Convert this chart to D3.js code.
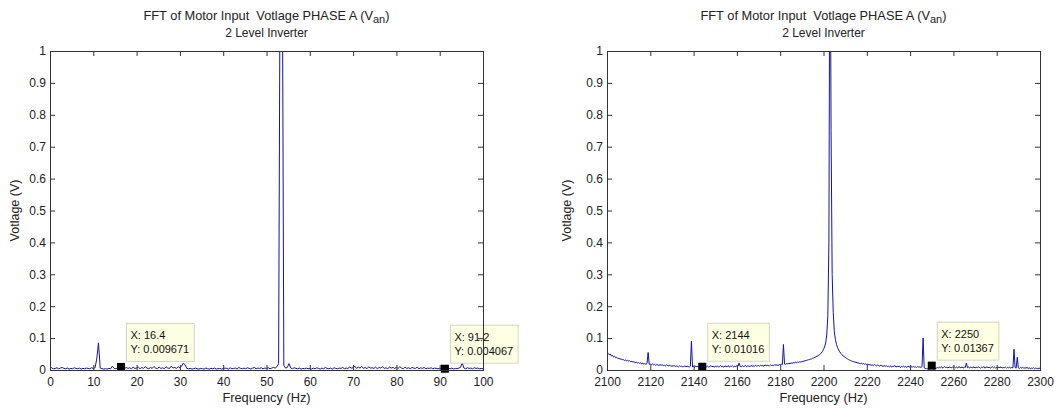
<!DOCTYPE html>
<html lang="en">
<head>
<meta charset="utf-8">
<title>FFT of Motor Input Votlage PHASE A</title>
<script src="https://cdn.jsdelivr.net/npm/d3@7"></script>
<style>
    body { margin: 0; background: #fff; }
    text { font-family: Arial, "Liberation Sans", sans-serif; fill: #222; }
</style>
</head>
<body>
<script>

// ---- data ----

// left panel: 0..100 Hz, 0.4 Hz bins
var stepA = 0.4;
var voltsA = [
    .012,.006,.004,.005,.007,.004,.006,.008,.005,.004,.006,.003,.005,.004,.007,.005,.004,.006,.003,.005,.004,.006,.005,.004,.007,
    .005,.007,.035,.085,.006,.004,.003,.004,.003,.005,.004,.012,.005,.004,.006,.007,.009671,.006,.004,.008,.005,.007,.004,.009,.005,
    .006,.009,.004,.008,.005,.010,.006,.004,.008,.005,.011,.006,.004,.009,.005,.007,.004,.010,.006,.005,.012,.006,.008,.005,.010,
    .007,.012,.022,.016,.005,.004,.005,.003,.004,.006,.004,.003,.005,.004,.003,.006,.004,.003,.005,.004,.006,.003,.004,.005,.003,
    .004,.006,.005,.003,.007,.004,.005,.006,.003,.008,.005,.004,.006,.004,.007,.005,.003,.006,.008,.004,.006,.005,.007,.004,.006,
    .005,.007,.004,.006,.008,.006,.010,.020,1.50,1.50,.015,.006,.008,.020,.006,.004,.007,.005,.004,.006,.003,.005,.004,.006,.004,
    .005,.003,.006,.004,.007,.005,.003,.006,.004,.008,.005,.004,.006,.003,.007,.005,.004,.006,.005,.008,.004,.006,.005,.009,.006,
    .007,.012,.005,.009,.006,.011,.005,.008,.004,.010,.006,.007,.005,.009,.004,.008,.006,.010,.005,.007,.004,.009,.006,.008,.005,
    .008,.005,.010,.006,.004,.009,.005,.007,.004,.008,.006,.005,.009,.004,.007,.005,.008,.004,.006,.005,.007,.004,.006,.005,.004,
    .005,.004,.006,.004067,.003,.005,.004,.006,.003,.005,.004,.006,.008,.022,.006,.004,.007,.005,.006,.004,.007,.005,.006,.004,.005,
    .004
];
var startA = 0;
var xTicksA = [0, 10, 20, 30, 40, 50, 60, 70, 80, 90, 100];
var tipsA = [{x: 16.4, y: 0.009671}, {x: 91.2, y: 0.004067}];

// right panel: 2100..2300 Hz, 0.5 Hz bins
var stepB = 0.5;
var voltsB = [
    .058,.052,.048,.050,.044,.046,.041,.043,.038,.040,.036,.037,.034,.035,.032,.033,.030,.031,.029,.030,
    .028,.029,.026,.027,.025,.026,.023,.025,.022,.023,.021,.022,.020,.021,.019,.020,.018,.021,.055,.018,
    .018,.017,.019,.016,.018,.015,.017,.016,.014,.017,.015,.016,.014,.015,.013,.016,.014,.013,.015,.012,
    .013,.012,.014,.011,.013,.012,.010,.013,.011,.012,.010,.011,.013,.010,.012,.011,.009,.012,.090,.010,
    .011,.009,.012,.010,.011,.009,.012,.010,.01016,.011,.009,.013,.010,.012,.009,.011,.014,.010,.012,.009,
    .012,.010,.013,.009,.011,.014,.010,.012,.009,.013,.011,.010,.014,.009,.012,.011,.013,.010,.012,.011,
    .013,.011,.022,.012,.010,.013,.011,.012,.014,.010,.013,.012,.011,.014,.012,.013,.011,.015,.012,.013,
    .014,.012,.015,.013,.014,.012,.016,.013,.015,.014,.013,.016,.014,.015,.013,.017,.015,.016,.014,.017,
    .016,.018,.017,.080,.019,.018,.020,.019,.021,.020,.022,.021,.023,.022,.024,.023,.025,.024,.026,.025,
    .026,.027,.028,.029,.030,.031,.032,.033,.034,.035,.037,.038,.040,.041,.043,.045,.047,.050,.053,.058,
    .065,.072,.085,.110,.170,.400,1.60,.750,.300,.180,.120,.095,.080,.070,.063,.057,.052,.048,.045,.042,
    .040,.037,.035,.033,.031,.030,.028,.027,.026,.025,.024,.023,.022,.021,.020,.021,.019,.020,.018,.019,
    .017,.018,.016,.017,.015,.016,.014,.017,.015,.013,.016,.014,.012,.015,.013,.011,.014,.012,.013,.011,
    .012,.010,.013,.009,.012,.011,.014,.009,.012,.010,.013,.008,.011,.010,.012,.009,.011,.008,.012,.010,
    .009,.011,.008,.012,.009,.010,.008,.011,.009,.010,.008,.011,.100,.007,.005,.004,.004,.003,.004,.003,
    .01367,.004,.003,.004,.005,.008,.006,.009,.007,.010,.006,.008,.011,.007,.009,.006,.010,.008,.007,.009,
    .008,.010,.007,.009,.006,.011,.008,.007,.010,.006,.009,.008,.022,.007,.010,.006,.009,.008,.007,.010,
    .006,.009,.007,.010,.008,.006,.009,.007,.011,.006,.008,.010,.007,.009,.006,.008,.010,.007,.009,.006,
    .008,.006,.009,.007,.010,.006,.008,.007,.009,.006,.008,.007,.009,.006,.008,.007,.065,.008,.006,.040,
    .007,.005,.008,.006,.009,.005,.007,.006,.008,.005,.007,.004,.006,.005,.007,.004,.006,.005,.004,.006,
    .005
];
var startB = 2100;
var xTicksB = [2100, 2120, 2140, 2160, 2180, 2200, 2220, 2240, 2260, 2280, 2300];
var tipsB = [{x: 2144, y: 0.01016}, {x: 2250, y: 0.01367}];

var yTicks = [0, 0.1, 0.2, 0.3, 0.4, 0.5, 0.6, 0.7, 0.8, 0.9, 1];
var title = "FFT of Motor Input  Votlage PHASE A (V";
var subtitle = "2 Level Inverter";
var xLabel = "Frequency (Hz)";
var yLabel = "Votlage (V)";

// ---- layout ----
var w = 1060;
var h = 410;
var plotTop = 51, plotBottom = 370;
var axisColor = "#333";
var lineColor = "#1414a0";

var svg = d3.select("body")
    .append("svg")
    .attr("width", w)
    .attr("height", h);

// one subplot
function drawPanel(id, left, right, start, step, volts, xTicks, tips, yLabelX) {

    var pts = volts.map(function (v, i) {
        return {f: start + i * step, v: v};
    });

    var x = d3.scaleLinear()
        .domain([xTicks[0], xTicks[xTicks.length - 1]])
        .range([left, right]);

    var y = d3.scaleLinear()
        .domain([0, 1])
        .range([plotBottom, plotTop]);

    var g = svg.append("g");

    g.append("clipPath")
        .attr("id", id)
        .append("rect")
        .attr("x", left)
        .attr("y", plotTop)
        .attr("width", right - left)
        .attr("height", plotBottom - plotTop);

    var line = d3.line()
        .x(function (d) { return x(d.f); })
        .y(function (d) { return y(d.v); });

    g.append("path")
        .datum(pts)
        .attr("clip-path", "url(#" + id + ")")
        .attr("fill", "none")
        .attr("stroke", lineColor)
        .attr("stroke-width", 1)
        .attr("d", line);

    // data tips
    tips.forEach(function (t) {
        var mx = x(t.x), my = y(t.y);
        var tg = g.append("g");
        var box = tg.append("rect")
            .attr("fill", "#ffffe4")
            .attr("stroke", "#d4d4c4")
            .attr("stroke-width", 1);
        var t1 = tg.append("text")
            .attr("x", mx + 9.5)
            .attr("y", my - 28)
            .style("font-size", "11px")
            .style("fill", "#111")
            .text("X: " + t.x);
        var t2 = tg.append("text")
            .attr("x", mx + 9.5)
            .attr("y", my - 14)
            .style("font-size", "11px")
            .style("fill", "#111")
            .text("Y: " + t.y);
        var bw = Math.max(t1.node().getComputedTextLength(), t2.node().getComputedTextLength()) + 9;
        box.attr("x", mx + 5.5)
            .attr("y", my - 43.5)
            .attr("width", bw)
            .attr("height", 38);
        tg.append("rect")
            .attr("x", mx - 4)
            .attr("y", my - 4)
            .attr("width", 8)
            .attr("height", 8)
            .attr("fill", "#000");
    });

    // axes, ticks pointing inward on all four sides
    g.append("g")
        .attr("transform", "translate(0," + plotBottom + ")")
        .call(d3.axisBottom(x).tickValues(xTicks).tickSize(-5).tickSizeOuter(0).tickPadding(7).tickFormat(d3.format("d")));
    g.append("g")
        .attr("transform", "translate(0," + plotTop + ")")
        .call(d3.axisTop(x).tickValues(xTicks).tickSize(-5).tickSizeOuter(0).tickFormat(""));
    g.append("g")
        .attr("transform", "translate(" + left + ",0)")
        .call(d3.axisLeft(y).tickValues(yTicks).tickSize(-5).tickSizeOuter(0).tickPadding(4).tickFormat(d3.format("~g")));
    g.append("g")
        .attr("transform", "translate(" + right + ",0)")
        .call(d3.axisRight(y).tickValues(yTicks).tickSize(-5).tickSizeOuter(0).tickFormat(""));

    g.selectAll(".domain").attr("stroke", "none");
    g.selectAll(".tick line").attr("stroke", axisColor);
    g.selectAll(".tick text")
        .style("font-size", "12px")
        .style("font-family", "Arial, 'Liberation Sans', sans-serif")
        .style("fill", "#222");

    g.append("rect")
        .attr("x", left + 0.5)
        .attr("y", plotTop + 0.5)
        .attr("width", right - left)
        .attr("height", plotBottom - plotTop)
        .attr("fill", "none")
        .attr("stroke", axisColor)
        .attr("stroke-width", 1);

    // titles and labels
    var cx = (left + right) / 2;
    var tt = g.append("text")
        .attr("x", cx)
        .attr("y", 20)
        .attr("text-anchor", "middle")
        .style("font-size", "12.8px")
        .style("white-space", "pre");
    tt.append("tspan").text(title);
    tt.append("tspan").attr("dy", 3).style("font-size", "11px").text("an");
    tt.append("tspan").attr("dy", -3).text(")");

    g.append("text")
        .attr("x", cx)
        .attr("y", 37)
        .attr("text-anchor", "middle")
        .style("font-size", "12px")
        .text(subtitle);

    g.append("text")
        .attr("x", cx)
        .attr("y", 402)
        .attr("text-anchor", "middle")
        .style("font-size", "12.8px")
        .text(xLabel);

    g.append("text")
        .attr("transform", "translate(" + yLabelX + "," + ((plotTop + plotBottom) / 2) + ") rotate(-90)")
        .attr("text-anchor", "middle")
        .style("font-size", "12.5px")
        .text(yLabel);
}

drawPanel("clipA", 50, 483, startA, stepA, voltsA, xTicksA, tipsA, 19);
drawPanel("clipB", 607, 1040, startB, stepB, voltsB, xTicksB, tipsB, 571);

</script>
</body>
</html>
